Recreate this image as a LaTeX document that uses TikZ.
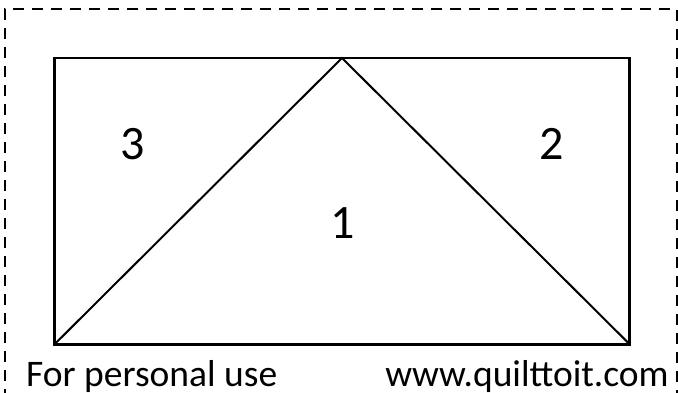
\documentclass[tikz,border=0pt]{standalone}
\usepackage{fontspec}
\setmainfont{Carlito}
\tikzset{
  border/.style={line width=2pt, dash pattern=on 11pt off 8pt},
  block/.style={line width=2.6pt, line join=miter},
  seam/.style={line width=2pt},
  patch/.style={font=\fontsize{48}{52}\selectfont, inner sep=0pt},
  foot/.style={font=\fontsize{37.5}{42}\selectfont, inner sep=0pt}
}
\begin{document}
\begin{tikzpicture}[x=1pt,y=-1pt]
\useasboundingbox (0,0) rectangle (678,392);
\coordinate (bl0) at (5,400);
\coordinate (tl0) at (5,9);
\coordinate (tr0) at (677,9);
\coordinate (br0) at (677,400);
\draw[border] (bl0) -- (tl0) -- (tr0) -- (br0);
\coordinate (tl) at (54.5,58);
\coordinate (tr) at (629.7,58);
\coordinate (br) at (629.7,344.3);
\coordinate (bl) at (54.5,344.3);
\coordinate (apex) at (342,58);
\draw[block] (tl) rectangle (br);
\draw[seam] (bl) -- (apex) -- (br);
\node[patch] (n3) at (133,144) {3};
\node[patch] (n2) at (552,144) {2};
\node[patch] (n1) at (343,223) {1};
\node[foot, anchor=base west] (left) at (26,386) {For personal use};
\node[foot, anchor=base east] (right) at (669,386) {www.quilttoit.com};
\end{tikzpicture}
\end{document}
